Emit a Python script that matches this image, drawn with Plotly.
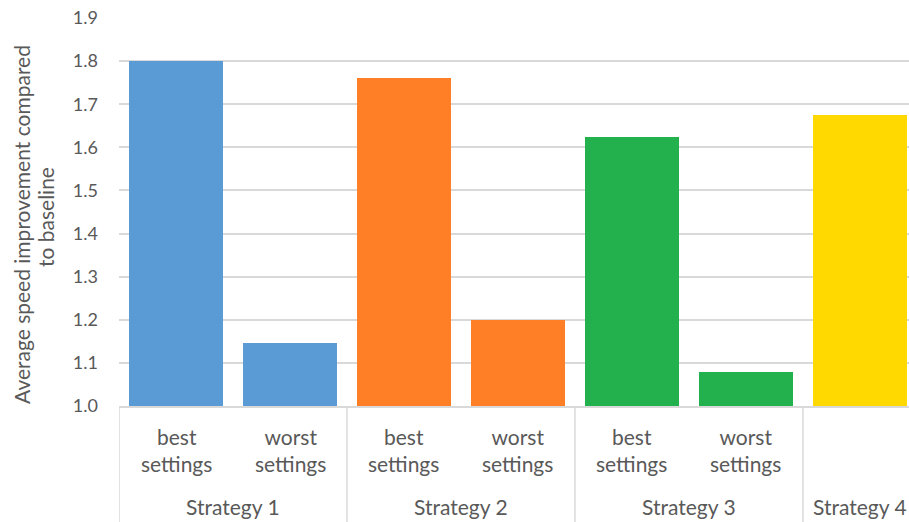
import plotly.graph_objects as go

# Chart data
strategies = ["Strategy 1", "Strategy 2", "Strategy 3", "Strategy 4"]
settings = ["best<br>settings", "worst<br>settings",
            "best<br>settings", "worst<br>settings",
            "best<br>settings", "worst<br>settings",
            ""]
group_of_bar = [0, 0, 1, 1, 2, 2, 3]
speedup = [1.80, 1.145, 1.76, 1.20, 1.625, 1.08, 1.675]
y_ticks = [1.0, 1.1, 1.2, 1.3, 1.4, 1.5, 1.6, 1.7, 1.8, 1.9]
y_title_lines = ["Average speed improvement compared", "to baseline"]

palette = ["#5B9BD5", "#FF7F27", "#22B14C", "#FFD900"]
bar_colors = [palette[g] for g in group_of_bar]

W, H = 909, 522
M_L, M_R, M_T, M_B = 119, 0, 18, 116
plot_w = W - M_L - M_R
plot_h = H - M_T - M_B
txt = "#595959"
grid = "#D9D9D9"
font_family = "Lato, Calibri, Carlito, sans-serif"


def py(pixel_y):
    """Pixel row (from top of page) to paper y."""
    return (H - M_B - pixel_y) / plot_h


def px(pixel_x):
    """Pixel column (from left of page) to paper x."""
    return (pixel_x - M_L) / plot_w


xs = list(range(len(speedup)))

fig = go.Figure(go.Bar(
    x=xs, y=speedup, base=0,
    marker=dict(color=bar_colors, line=dict(width=0)),
    width=0.82,
))

annotations = []
# inner labels (settings)
for i, s in enumerate(settings):
    if s:
        annotations.append(dict(x=i, y=py(450), xref="x", yref="paper",
                                xanchor="center", yanchor="middle",
                                text=s, showarrow=False,
                                font=dict(size=21, color=txt, family=font_family)))
# outer labels (strategies)
for g, name in enumerate(strategies):
    members = [i for i, gg in enumerate(group_of_bar) if gg == g]
    cx = (members[0] + members[-1]) / 2
    annotations.append(dict(x=cx, y=py(506), xref="x", yref="paper",
                            xanchor="center", yanchor="middle",
                            text=name, showarrow=False,
                            font=dict(size=21, color=txt, family=font_family)))
# y-axis title, one annotation per line
for line, cx, cy in zip(y_title_lines, [21, 46], [225, 217]):
    annotations.append(dict(x=px(cx), y=py(cy), xref="paper", yref="paper",
                            xanchor="center", yanchor="middle",
                            text=line, textangle=-90, showarrow=False,
                            font=dict(size=21, color=txt, family=font_family)))

shapes = []
# group dividers below the axis
bounds = [-0.5]
for g in range(len(strategies)):
    members = [i for i, gg in enumerate(group_of_bar) if gg == g]
    bounds.append(members[-1] + 0.5)
for b in bounds:
    shapes.append(dict(type="line", xref="x", yref="paper", x0=b, x1=b,
                       y0=0, y1=py(H + 2), line=dict(color=grid, width=1.5)))

fig.update_layout(
    width=W, height=H,
    margin=dict(l=M_L, r=M_R, t=M_T, b=M_B, pad=0),
    paper_bgcolor="white", plot_bgcolor="white",
    showlegend=False,
    bargap=0,
    font=dict(family=font_family, color=txt),
    xaxis=dict(range=[-0.5, 6.43], showticklabels=False, ticks="",
               showgrid=False, zeroline=False,
               showline=True, linecolor=grid, linewidth=1.5),
    yaxis=dict(range=[1.0, 1.9], tickvals=y_ticks,
               ticktext=[f"{v:.1f}" for v in y_ticks],
               showgrid=True, gridcolor=grid, gridwidth=1.5,
               zeroline=False, showline=False, ticks="",
               ticklabelstandoff=20,
               tickfont=dict(size=18, color=txt, family=font_family)),
    annotations=annotations,
    shapes=shapes,
)

fig.write_html("out.html")
